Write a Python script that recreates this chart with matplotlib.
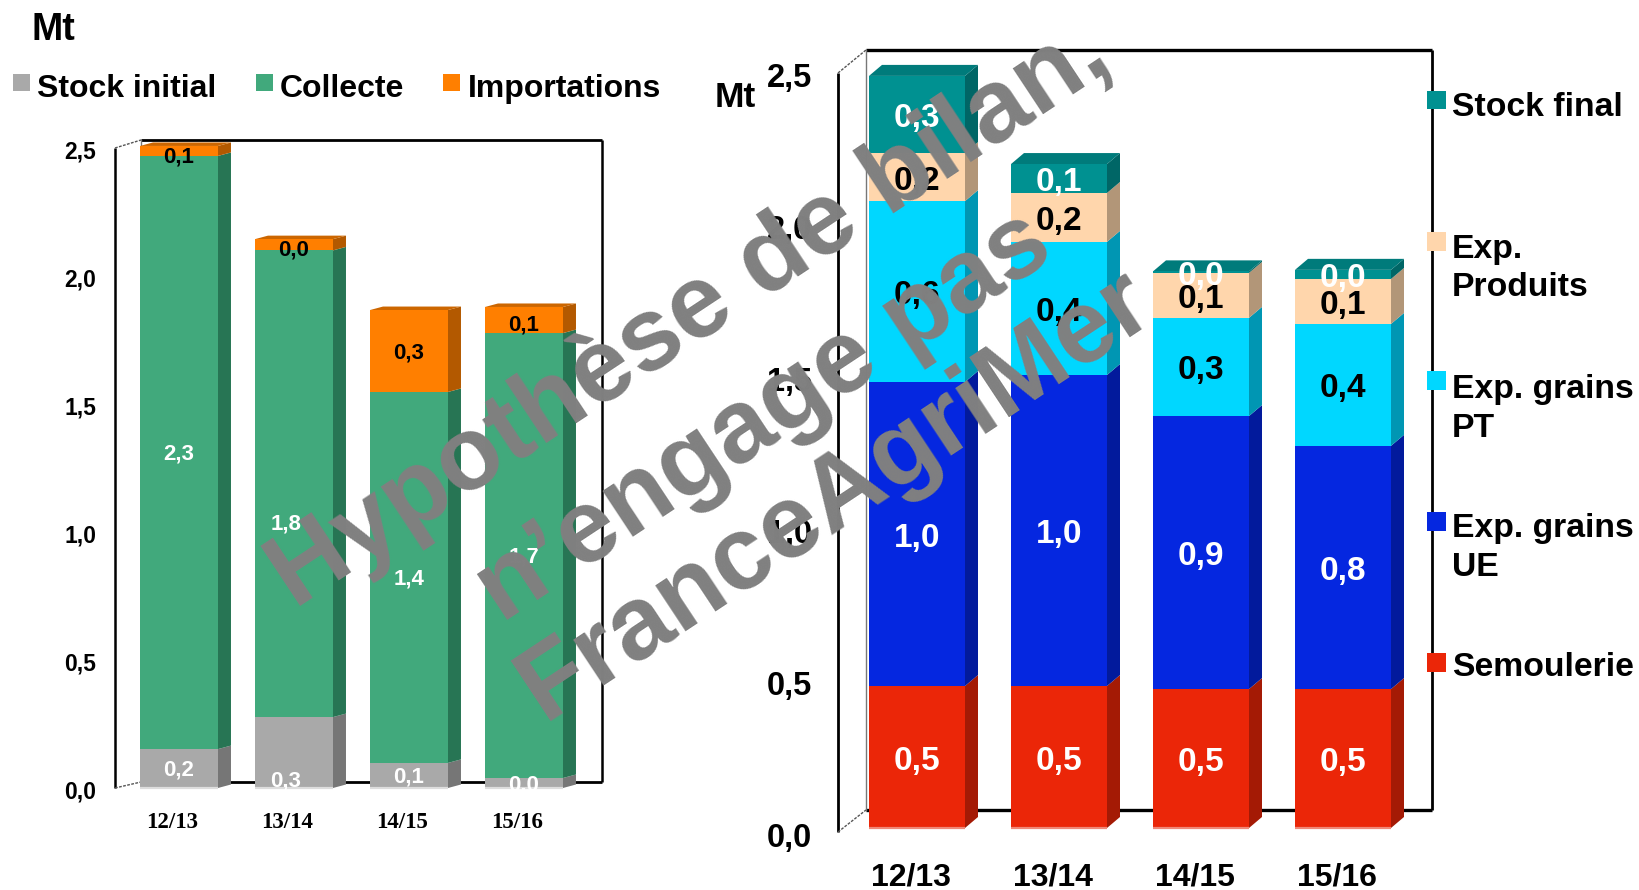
import matplotlib
matplotlib.use("Agg")
import matplotlib.pyplot as plt
from matplotlib.patches import Rectangle
from matplotlib.transforms import Affine2D

plt.rcParams['font.family'] = ['Liberation Sans', 'DejaVu Sans']

W, H = 1639, 890
campagnes = ["12/13", "13/14", "14/15", "15/16"]
y_ticks = [0.0, 0.5, 1.0, 1.5, 2.0, 2.5]
y_tick_labels = ["0,0", "0,5", "1,0", "1,5", "2,0", "2,5"]

# Ressources
stock_initial = [0.152, 0.277, 0.098, 0.039]
collecte = [2.317, 1.823, 1.449, 1.738]
importations = [0.039, 0.044, 0.320, 0.102]
stock_initial_lab = ["0,2", "0,3", "0,1", "0,0"]
collecte_lab = ["2,3", "1,8", "1,4", "1,7"]
importations_lab = ["0,1", "0,0", "0,3", "0,1"]

# Emplois
semoulerie = [0.467, 0.467, 0.457, 0.457]
grains_ue = [1.000, 1.023, 0.898, 0.800]
grains_pt = [0.595, 0.438, 0.323, 0.401]
produits = [0.158, 0.161, 0.148, 0.148]
stock_final = [0.254, 0.095, 0.005, 0.030]
semoulerie_lab = ["0,5", "0,5", "0,5", "0,5"]
grains_ue_lab = ["1,0", "1,0", "0,9", "0,8"]
grains_pt_lab = ["0,6", "0,4", "0,3", "0,4"]
produits_lab = ["0,2", "0,2", "0,1", "0,1"]
stock_final_lab = ["0,3", "0,1", "0,0", "0,0"]

fig = plt.figure(figsize=(W / 100, H / 100), dpi=100, facecolor="white")

# pixel-space layer for walls and legends
bg = fig.add_axes([0, 0, 1, 1], zorder=0)
bg.set_xlim(0, W)
bg.set_ylim(H, 0)
bg.axis("off")


def make_axes(x0, x1, y_top, y_zero, c0, spacing):
    ax = fig.add_axes([x0 / W, (H - y_zero) / H, (x1 - x0) / W, (y_zero - y_top) / H], zorder=1)
    ax.patch.set_alpha(0)
    ax.set_xlim((x0 - c0) / spacing, (x1 - c0) / spacing)
    ax.set_ylim(0, 2.5)
    for s in ax.spines.values():
        s.set_visible(False)
    return ax


def stack(ax, series, width, dx_px, dy_px, top_color, spacing, yscale, lab_size, lab_weight, nudges, base_down):
    dx = dx_px / spacing
    dy = dy_px / yscale
    xs = range(len(campagnes))
    bottoms = [0.0] * len(campagnes)
    for k, (vals, labs, front, side, strip, txt) in enumerate(series):
        ax.bar(list(xs), vals, width, bottom=bottoms, color=front, linewidth=0, zorder=3, clip_on=False)
        for i in xs:
            b, t = bottoms[i], bottoms[i] + vals[i]
            r = i + width / 2
            ax.fill([r, r + dx, r + dx, r], [b, b + dy, t + dy, t], color=side, lw=0, zorder=2, clip_on=False)
            if k == 0:
                ax.plot([i - width / 2, r], [b, b], color=strip, lw=1.6, zorder=4, clip_on=False,
                        solid_capstyle="butt")
            if k == len(series) - 1:
                l = i - width / 2
                ax.fill([l, l + dx, r + dx, r], [t, t + dy, t + dy, t], color=top_color, lw=0, zorder=2,
                        clip_on=False)
            nx, ny = nudges.get((k, i), (0, 0))
            ax.annotate(labs[i], (i, (b + t) / 2), xytext=(nx * 0.72, -(ny + base_down) * 0.72),
                        textcoords="offset points", ha="center", va="center", color=txt,
                        fontsize=lab_size, fontweight=lab_weight, zorder=6, annotation_clip=False)
        bottoms = [bottoms[i] + vals[i] for i in xs]


def ticks(ax, pad_y, pad_x, fs_y, fs_x, x_fam, x_shift, y_down):
    ax.set_yticks(y_ticks, y_tick_labels)
    ax.set_xticks(range(len(campagnes)), campagnes)
    ax.tick_params(axis="both", length=0)
    ax.tick_params(axis="y", pad=pad_y * 0.72)
    ax.tick_params(axis="x", pad=pad_x * 0.72)
    for t in ax.get_yticklabels():
        t.set_fontsize(fs_y)
        t.set_fontweight("bold")
        t.set_transform(t.get_transform() + Affine2D().translate(0, -y_down))
    for t in ax.get_xticklabels():
        t.set_fontsize(fs_x)
        t.set_fontweight("bold")
        t.set_family(x_fam)
        t.set_transform(t.get_transform() + Affine2D().translate(x_shift, 0))


def walls(xf, yf_top, yf_bot, xb, yb_top, yb_bot, xr, lw_h, lw_v):
    k = dict(color="black", solid_capstyle="butt", zorder=1)
    bg.plot([xb, xr], [yb_top, yb_top], lw=lw_h, **k)
    bg.plot([xb, xr], [yb_bot, yb_bot], lw=lw_h, **k)
    bg.plot([xr, xr], [yb_top, yb_bot], lw=lw_v, **k)
    bg.plot([xf, xf], [yf_top, yf_bot], lw=lw_v, **k)
    bg.plot([xb, xb], [yb_top, yb_bot], lw=1, color="#777777", zorder=1)
    for a, b in ((yf_top, yb_top), (yf_bot, yb_bot)):
        bg.plot([xf, xb], [a, b], lw=1, color="#555555", ls=(0, (2, 1)), zorder=1)


def legend_item(xm, ym, size, xt, yt, label, color, fs):
    bg.add_patch(Rectangle((xm, ym), size, size, facecolor=color, edgecolor="none", zorder=2))
    # yt is the baseline of the last line of the label
    bg.text(xt, yt, label, fontsize=fs, fontweight="bold", ha="left", va="baseline", color="black",
            linespacing=1.33)


# ---------- left chart ----------
axL = make_axes(115, 602, 148, 788, 179, 115)
walls(115, 148, 788, 141, 140, 782, 602, 2.0, 1.8)
seriesL = [
    (stock_initial, stock_initial_lab, "#A9A9A9", "#767676", "#DDDDDD", "white"),
    (collecte, collecte_lab, "#41A97C", "#277554", "#41A97C", "white"),
    (importations, importations_lab, "#FF7F00", "#B35900", "#FF7F00", "black"),
]
nudgeL = {(0, 1): (-8, 27), (1, 1): (-8, 39), (2, 0): (0, 5), (2, 1): (0, 4), (2, 3): (0, 3)}
stack(axL, seriesL, 0.678, 13, 3.5, "#CC6600", 115, 256, 16, "bold", nudgeL, 1.5)
ticks(axL, 19, 24, 16.5, 16.5, "Liberation Serif", -7, 1.2)

bg.text(31, 40, "Mt", fontsize=27, fontweight="bold", ha="left", va="baseline")
for xm, xt, lab, col in [(13, 37, "Stock initial", "#A9A9A9"), (256, 280, "Collecte", "#41A97C"),
                         (443, 468, "Importations", "#FF7F00")]:
    legend_item(xm, 74, 17, xt, 97, lab, col, 23)

# ---------- right chart ----------
axR = make_axes(838, 1432, 68, 828, 917, 142)
walls(838, 73, 832, 866, 50, 810, 1432, 2.4, 2.0)
seriesR = [
    (semoulerie, semoulerie_lab, "#EB2608", "#A41A05", "#F08878", "white"),
    (grains_ue, grains_ue_lab, "#0527E0", "#021A9C", "#0527E0", "white"),
    (grains_pt, grains_pt_lab, "#00D7FF", "#0096B3", "#00D7FF", "black"),
    (produits, produits_lab, "#FFD6AC", "#B29678", "#FFD6AC", "black"),
    (stock_final, stock_final_lab, "#009191", "#006666", "#009191", "white"),
]
stack(axR, seriesR, 0.676, 13, 11, "#007B7B", 142, 304, 24, "bold", {}, 4)
ticks(axR, 26, 34, 23.5, 23, "Liberation Sans", -6, 7.2)

bg.text(715, 107, "Mt", fontsize=25.5, fontweight="bold", ha="left", va="baseline")
legendR = [
    ("Stock final", "#009191"),
    ("Exp.\nProduits", "#FFD6AC"),
    ("Exp. grains\nPT", "#00D7FF"),
    ("Exp. grains\nUE", "#0527E0"),
    ("Semoulerie", "#EB2608"),
]
for (lab, col), ym, yt in zip(legendR, [90.5, 232, 371, 512, 653], [116, 296.5, 437, 576, 676]):
    legend_item(1427, ym, 18.5, 1452, yt, lab, col, 24.3)

# ---------- watermark ----------
for s, cx, cy in [("Hypothèse de bilan,", 690, 316), ("n\u2019engage pas", 765, 418), ("FranceAgriMer", 836, 496)]:
    fig.text(cx / W, 1 - cy / H, s, fontsize=75, fontweight="bold", color="#808080", rotation=33.5,
             rotation_mode="anchor", ha="center", va="center", zorder=50)

fig.savefig("out.png", dpi=100)
